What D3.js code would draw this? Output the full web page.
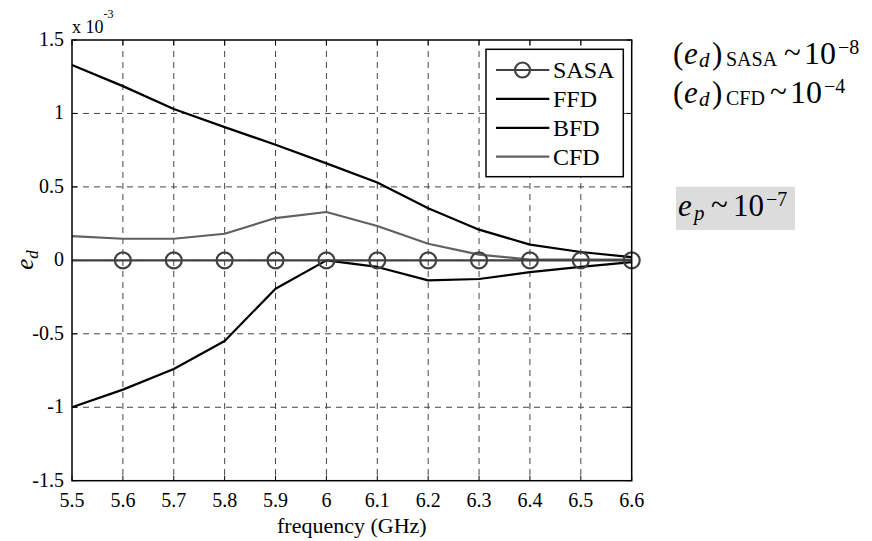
<!DOCTYPE html>
<html>
<head>
<meta charset="utf-8">
<script src="https://cdn.jsdelivr.net/npm/d3@7"></script>
<style>
  body { margin: 0; background: #fff; }
  svg, svg text { font-family: "Liberation Serif", "Times New Roman", "DejaVu Serif", serif; }
</style>
</head>
<body>
<div id="chart"></div>
<script>
// data (values in units of 1e-3)
var freq = [5.5, 5.6, 5.7, 5.8, 5.9, 6.0, 6.1, 6.2, 6.3, 6.4, 6.5, 6.6];
var sasa = [0, 0, 0, 0, 0, 0, 0, 0, 0, 0, 0, 0];
var ffd  = [1.33, 1.186, 1.03, 0.907, 0.787, 0.66, 0.53, 0.354, 0.209, 0.107, 0.057, 0.022];
var bfd  = [-1.0, -0.88, -0.74, -0.549, -0.193, 0.0, -0.045, -0.136, -0.127, -0.08, -0.045, -0.012];
var cfd  = [0.165, 0.147, 0.147, 0.181, 0.288, 0.329, 0.234, 0.113, 0.039, 0.005, 0.005, 0.005];
var xTicks = [5.5, 5.6, 5.7, 5.8, 5.9, 6, 6.1, 6.2, 6.3, 6.4, 6.5, 6.6];
var yTicks = [-1.5, -1, -0.5, 0, 0.5, 1, 1.5];
var legendNames = ["SASA", "FFD", "BFD", "CFD"];

var W = 872, H = 541;
var pL = 72, pT = 40, pR = 631.7, pB = 480.7;
var serif = '"Liberation Serif", "Times New Roman", "DejaVu Serif", serif';

var svg = d3.select("#chart").append("svg")
  .attr("width", W).attr("height", H)
  .attr("font-family", serif);

var x = d3.scaleLinear().domain([5.5, 6.6]).range([pL, pR]);
var y = d3.scaleLinear().domain([-1.5, 1.5]).range([pB, pT]);

// grid
var grid = svg.append("g");
grid.selectAll("line.gx").data(xTicks.slice(1, -1)).enter().append("line")
  .attr("class", "gx")
  .attr("x1", d => x(d)).attr("x2", d => x(d))
  .attr("y1", pT).attr("y2", pB);
grid.selectAll("line.gy").data(yTicks.slice(1, -1)).enter().append("line")
  .attr("class", "gy")
  .attr("y1", d => y(d)).attr("y2", d => y(d))
  .attr("x1", pL).attr("x2", pR);
grid.selectAll("line")
  .attr("stroke", "#444").attr("stroke-width", 1)
  .attr("stroke-dasharray", "6,5");

// inner ticks on all four sides
var tickLen = 5;
var ticks = svg.append("g").attr("stroke", "#000").attr("stroke-width", 1);
xTicks.forEach(function(t) {
  ticks.append("line").attr("x1", x(t)).attr("x2", x(t)).attr("y1", pB).attr("y2", pB - tickLen);
  ticks.append("line").attr("x1", x(t)).attr("x2", x(t)).attr("y1", pT).attr("y2", pT + tickLen);
});
yTicks.forEach(function(t) {
  ticks.append("line").attr("x1", pL).attr("x2", pL + tickLen).attr("y1", y(t)).attr("y2", y(t));
  ticks.append("line").attr("x1", pR).attr("x2", pR - tickLen).attr("y1", y(t)).attr("y2", y(t));
});

// series
var line = d3.line().x((d, i) => x(freq[i])).y(d => y(d));
var series = [
  { name: "FFD", vals: ffd, color: "#000", w: 2.2 },
  { name: "BFD", vals: bfd, color: "#000", w: 2.2 },
  { name: "CFD", vals: cfd, color: "#606060", w: 2.2 },
  { name: "SASA", vals: sasa, color: "#404040", w: 2.2 }
];
series.forEach(function(s) {
  svg.append("path").datum(s.vals)
    .attr("d", line)
    .attr("fill", "none")
    .attr("stroke", s.color)
    .attr("stroke-width", s.w)
    .attr("stroke-linejoin", "round");
});
svg.append("g").selectAll("circle")
  .data(sasa.map((v, i) => ({ f: freq[i], v: v })).filter(d => d.f > 5.5))
  .enter().append("circle")
  .attr("cx", d => x(d.f)).attr("cy", d => y(d.v))
  .attr("r", 8)
  .attr("fill", "none").attr("stroke", "#404040").attr("stroke-width", 2.2);

// axes box
svg.append("rect")
  .attr("x", pL).attr("y", pT)
  .attr("width", pR - pL).attr("height", pB - pT)
  .attr("fill", "none").attr("stroke", "#000").attr("stroke-width", 1.5);

// tick labels
svg.append("g").selectAll("text").data(xTicks).enter().append("text")
  .attr("x", d => x(d)).attr("y", pB + 26)
  .attr("text-anchor", "middle").attr("font-size", 20)
  .text(d => String(d));
svg.append("g").selectAll("text").data(yTicks).enter().append("text")
  .attr("x", pL - 8).attr("y", d => y(d) + 6)
  .attr("text-anchor", "end").attr("font-size", 20)
  .text(d => String(d));

// exponent label
var ex = svg.append("text").attr("x", pL).attr("y", 33).attr("font-size", 18);
ex.append("tspan").text("x 10");
ex.append("tspan").attr("dy", -15).attr("font-size", 12).text("-3");

// axis labels
svg.append("text")
  .attr("x", (pL + pR) / 2).attr("y", 533)
  .attr("text-anchor", "middle").attr("font-size", 22)
  .text("frequency (GHz)");
var yl = svg.append("text")
  .attr("transform", "translate(33,260) rotate(-90)")
  .attr("text-anchor", "middle").attr("font-size", 25).attr("font-style", "italic");
yl.append("tspan").text("e");
yl.append("tspan").attr("font-size", 17).attr("dy", 5).text("d");

// legend
var lg = svg.append("g");
lg.append("rect")
  .attr("x", 486).attr("y", 49.3).attr("width", 137.3).attr("height", 127.4)
  .attr("fill", "#fff").attr("stroke", "#000").attr("stroke-width", 1.5);
var legendRows = legendNames.map(function(n) { return series.find(s => s.name === n); });
legendRows.forEach(function(s, i) {
  var ly = 70 + i * 28.9;
  lg.append("line").attr("x1", 496).attr("x2", 549.3).attr("y1", ly).attr("y2", ly)
    .attr("stroke", s.color).attr("stroke-width", s.w);
  if (s.name === "SASA") {
    lg.append("circle").attr("cx", 522.5).attr("cy", ly).attr("r", 7.5)
      .attr("fill", "none").attr("stroke", s.color).attr("stroke-width", 2.2);
  }
  lg.append("text").attr("x", 553).attr("y", ly + 8).attr("font-size", 24).text(s.name);
});

// annotations on the right: each piece [text, x, baseline offset, size, italic]
function formula(base, pieces) {
  var t = svg.append("text").attr("y", base).attr("font-family", serif);
  pieces.forEach(function(p) {
    t.append("tspan")
      .attr("x", p[1]).attr("y", base + p[2])
      .attr("font-size", p[3])
      .attr("font-style", p[4] ? "italic" : "normal")
      .text(p[0]);
  });
}
formula(64, [["(", 673, 0, 31], ["e", 684, 0, 31, true], ["d", 699, 3, 21, true], [")", 712, 0, 31],
  ["SASA", 726, 2, 20], ["~", 784, -1, 31], ["10", 804, 0, 32], ["\u22128", 838, -10, 20]]);
formula(103, [["(", 673, 0, 31], ["e", 684, 0, 31, true], ["d", 699, 3, 21, true], [")", 712, 0, 31],
  ["CFD", 726, 2, 20], ["~", 770, -1, 31], ["10", 790, 0, 32], ["\u22124", 824, -10, 20]]);

svg.append("rect").attr("x", 676).attr("y", 186.7).attr("width", 119).attr("height", 43.3)
  .attr("fill", "#dcdcdc");
formula(216, [["e", 678, 0, 31, true], ["p", 694, 4, 21, true], ["~", 711, -1, 31],
  ["10", 733, 0, 31], ["\u22127", 766, -10, 20]]);
</script>
</body>
</html>
